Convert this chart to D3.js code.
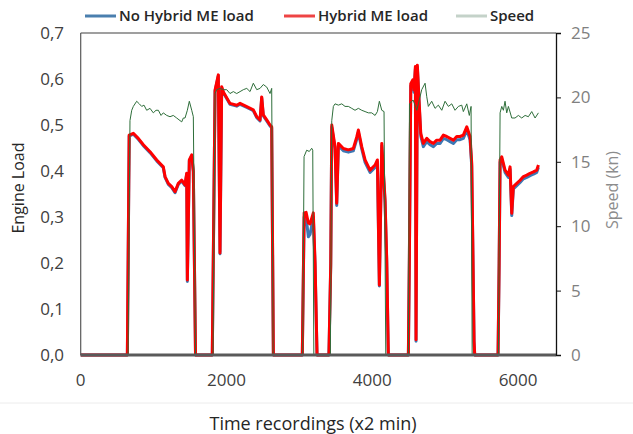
<!DOCTYPE html>
<html><head><meta charset="utf-8">
<script src="https://cdn.jsdelivr.net/npm/d3@7"></script>
<style>html,body{margin:0;padding:0;background:#fff;}svg{display:block;font-family:"Open Sans",sans-serif;}</style>
</head><body><div id="chart"></div>
<script>
// ---- data ----
const seriesNames = ["No Hybrid ME load", "Hybrid ME load", "Speed"];
const xTicks = [0, 2000, 4000, 6000];
const loadTicks = [0, 0.1, 0.2, 0.3, 0.4, 0.5, 0.6, 0.7];
const speedTicks = [0, 5, 10, 15, 20, 25];

const loadTime = [0,640,665,722,790,859,951,1043,1133,1157,1202,1249,1294,1339,1386,1431,1454,1463,1490,1523,1545,1575,
 1805,1843,1888,1911,1934,1957,2048,2140,2186,2278,2368,2415,2460,2483,2505,2552,2597,2620,2643,
 3040,3065,3092,3123,3146,3191,3215,3242,
 3405,3430,3444,3489,3512,3535,3603,3672,3740,3787,3809,3855,3901,3969,4038,4070,4097,4130,4175,4198,4220,
 4495,4509,4528,4555,4573,4591,4600,4618,4646,4665,4700,4747,4792,4838,4884,4930,4975,5021,5067,5112,5158,5204,5249,5296,5341,5364,5378,5396,5405,
 5725,5740,5753,5776,5821,5867,5890,5913,5935,5982,6027,6073,6119,6164,6210,6256,6279];
const hybridLoad = [0,0,0.478,0.482,0.471,0.457,0.442,0.424,0.409,0.388,0.373,0.366,0.355,0.373,0.380,0.370,0.395,0.163,0.424,0.435,0.400,0,
 0,0.576,0.609,0.222,0.583,0.572,0.547,0.543,0.547,0.540,0.533,0.518,0.511,0.561,0.522,0.511,0.500,0.496,0,
 0,0.309,0.310,0.287,0.285,0.309,0.200,0,
 0,0.200,0.500,0.453,0.330,0.460,0.449,0.446,0.449,0.474,0.489,0.453,0.424,0.402,0.413,0.424,0.152,0.460,0.337,0.207,0,
 0,0.220,0.590,0.598,0.576,0.627,0.033,0.630,0.540,0.482,0.460,0.471,0.464,0.460,0.467,0.467,0.478,0.475,0.471,0.467,0.475,0.475,0.478,0.496,0.475,0.417,0.250,0.030,0,
 0,0.200,0.424,0.431,0.402,0.391,0.409,0.308,0.366,0.373,0.380,0.388,0.391,0.395,0.398,0.402,0.413];
const noHybridLoad = [0,0,0.476,0.480,0.469,0.455,0.440,0.422,0.407,0.386,0.371,0.364,0.353,0.371,0.378,0.368,0.393,0.160,0.422,0.433,0.398,0,
 0,0.574,0.607,0.220,0.581,0.570,0.545,0.541,0.545,0.538,0.531,0.516,0.509,0.559,0.520,0.509,0.498,0.494,0,
 0,0.300,0.300,0.257,0.262,0.300,0.195,0,
 0,0.195,0.495,0.448,0.325,0.455,0.444,0.441,0.444,0.469,0.484,0.448,0.419,0.397,0.408,0.419,0.150,0.455,0.332,0.202,0,
 0,0.215,0.585,0.593,0.571,0.622,0.030,0.625,0.535,0.476,0.453,0.464,0.457,0.453,0.460,0.460,0.471,0.468,0.464,0.460,0.468,0.468,0.471,0.489,0.468,0.410,0.245,0.028,0,
 0,0.195,0.419,0.426,0.397,0.386,0.404,0.303,0.361,0.368,0.375,0.383,0.386,0.390,0.393,0.397,0.408];

const speedTime = [0,650,676,700,722,768,804,837,868,905,951,996,1033,1065,1102,1133,1180,1225,1270,1317,1362,1386,1408,1431,1463,1490,1523,1545,1575,
 1815,1843,1866,1911,1957,2003,2048,2094,2140,2186,2231,2278,2323,2368,2415,2460,2505,2552,2597,2620,2640,
 3045,3064,3100,3136,3169,3183,3198,
 3425,3444,3466,3489,3535,3581,3626,3672,3718,3763,3809,3855,3901,3946,3992,4038,4070,4097,4130,4161,4185,
 4495,4510,4560,4610,4632,4678,4724,4747,4769,4815,4861,4906,4953,4998,5044,5090,5135,5181,5227,5249,5296,5331,5355,5370,
 5730,5753,5776,5798,5821,5844,5867,5913,5958,6004,6050,6096,6141,6187,6233,6279];
const speedKn = [0,0,18.2,19.0,19.3,19.7,19.5,19.3,19.4,19.0,19.15,18.8,19.0,19.0,18.6,18.8,18.6,18.5,18.6,18.4,18.2,18.1,18.4,18.4,19.0,19.7,19.0,18.5,0,
 0,20.3,20.6,20.7,20.6,20.6,20.3,20.45,20.3,20.45,20.6,20.7,20.45,21.1,20.6,20.7,21.0,20.8,20.3,20.7,0,
 0,15.4,15.9,15.8,16.05,15.9,0,
 0,18.2,19.3,19.5,19.4,19.5,19.3,19.3,19.15,19.0,19.15,19.0,18.9,18.8,18.8,18.6,18.9,19.7,19.0,18.9,0,
 0,19.5,19.8,19.0,19.5,20.6,21.1,20.05,19.3,19.7,19.15,19.4,19.0,19.7,19.3,19.5,19.0,19.3,19.4,18.9,19.5,18.6,19.3,0,
 0,18.8,19.3,19.0,19.7,18.8,19.3,18.4,18.4,18.6,18.4,18.6,18.5,18.9,18.4,18.8];

// ---- layout ----
const W = 633, H = 434;
const L = 80.7, R = 556, T = 33, B = 355;
const svg = d3.select("#chart").append("svg").attr("width", W).attr("height", H);

const x = d3.scaleLinear().domain([0, 6520]).range([L, R]);
const yL = d3.scaleLinear().domain([0, 0.7]).range([B, T]);
const yS = d3.scaleLinear().domain([0, 25]).range([B, T]);

// separator
svg.append("line").attr("x1", 0).attr("x2", W).attr("y1", 403).attr("y2", 403).attr("stroke", "#ececec");

// lines
const lineL = d3.line().x(d => x(d[0])).y(d => yL(d[1]));
const lineS = d3.line().x(d => x(d[0])).y(d => yS(d[1]));
svg.append("path").datum(loadTime.map((t, i) => [t, noHybridLoad[i]]))
  .attr("d", lineL).attr("fill", "none").attr("stroke", "#3d78b4").attr("stroke-width", 3).attr("stroke-linejoin", "round");
svg.append("path").datum(loadTime.map((t, i) => [t, hybridLoad[i]]))
  .attr("d", lineL).attr("fill", "none").attr("stroke", "#ff0000").attr("stroke-width", 3).attr("stroke-linejoin", "round");
svg.append("path").datum(speedTime.map((t, i) => [t, speedKn[i]]))
  .attr("d", lineS).attr("fill", "none").attr("stroke", "#2e6e3a").attr("stroke-width", 1);

// frame (drawn over the series, as in the reference)
svg.append("line").attr("x1", L).attr("x2", R).attr("y1", T).attr("y2", T).attr("stroke", "#404040").attr("stroke-width", 1.2);
svg.append("line").attr("x1", L).attr("x2", L).attr("y1", T).attr("y2", B).attr("stroke", "#595959").attr("stroke-width", 1.2);
svg.append("line").attr("x1", L).attr("x2", R).attr("y1", B).attr("y2", B).attr("stroke", "#5a5a5a").attr("stroke-width", 3);

// left axis labels
svg.append("g").selectAll("text").data(loadTicks).join("text")
  .attr("x", 64).attr("y", d => yL(d)).attr("dy", "0.35em").attr("text-anchor", "end")
  .attr("font-size", 17).attr("fill", "#404040").text(d => d3.format(".1f")(d).replace(".", ","));

// right axis
const ra = svg.append("g").attr("transform", `translate(${R},0)`)
  .call(d3.axisRight(yS).tickValues(speedTicks).tickSize(5).tickPadding(10));
ra.select(".domain").attr("stroke", "#111").attr("stroke-width", 1.3);
ra.selectAll(".tick line").attr("stroke", "#111");
ra.selectAll(".tick text").attr("font-size", 17).attr("fill", "#808080").attr("font-family", "Open Sans");

// x labels
svg.append("g").selectAll("text").data(xTicks).join("text")
  .attr("x", d => x(d)).attr("y", 380).attr("dy", "0.35em").attr("text-anchor", "middle")
  .attr("font-size", 17).attr("fill", "#404040").text(d => d);

// axis titles
svg.append("text").attr("transform", "translate(18,188) rotate(-90)").attr("text-anchor", "middle").attr("dy", "0.35em")
  .attr("font-size", 16).attr("fill", "#262626").text("Engine Load");
svg.append("text").attr("transform", "translate(612,190) rotate(-90)").attr("text-anchor", "middle").attr("dy", "0.35em")
  .attr("font-size", 16).attr("fill", "#8c8c8c").text("Speed (kn)");
svg.append("text").attr("x", 313).attr("y", 424).attr("dy", "0.35em").attr("text-anchor", "middle")
  .attr("font-size", 18).attr("fill", "#262626").text("Time recordings (x2 min)");

// legend
const legendItems = [
  {name: seriesNames[0], color: "#4a7fae", x: 85},
  {name: seriesNames[1], color: "#ee4444", x: 284},
  {name: seriesNames[2], color: "#c4d2c9", x: 456}
];
const lg = svg.append("g");
legendItems.forEach(it => {
  lg.append("line").attr("x1", it.x).attr("x2", it.x + 31).attr("y1", 16).attr("y2", 16)
    .attr("stroke", it.color).attr("stroke-width", 3);
  lg.append("text").attr("x", it.x + 34).attr("y", 16).attr("dy", "0.35em")
    .attr("font-size", 15).attr("font-weight", 600).attr("fill", "#262626").text(it.name);
});
</script></body></html>
